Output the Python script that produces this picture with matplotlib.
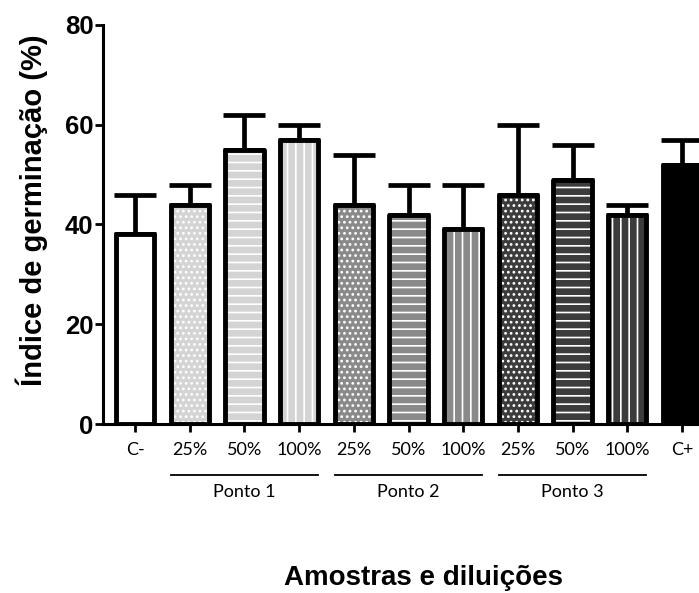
import matplotlib
matplotlib.use('Agg')
import matplotlib.pyplot as plt
import matplotlib.transforms as mtransforms

# data
labels = ['C-', '25%', '50%', '100%', '25%', '50%', '100%', '25%', '50%', '100%', 'C+']
means = [38, 44, 55, 57, 44, 42, 39, 46, 49, 42, 52]
errs = [8, 4, 7, 3, 10, 6, 9, 14, 7, 2, 5]
groups = ['Ponto 1', 'Ponto 2', 'Ponto 3']
group_members = [(1, 3), (4, 6), (7, 9)]

fills = ['white', '#d4d4d4', '#d4d4d4', '#d4d4d4', '#8a8a8a', '#8a8a8a', '#8a8a8a',
         '#3c3c3c', '#3c3c3c', '#3c3c3c', 'black']
hatches = [None, '...', '--', '||', '...', '--', '||', '...', '--', '||', None]

plt.rcParams['hatch.linewidth'] = 1.2

fig = plt.figure(figsize=(6.99, 5.93), dpi=100)
ax = fig.add_axes([103 / 699, 169 / 593, 596 / 699, 399 / 593])

x = list(range(len(labels)))
width = 0.7

# fill + white hatch first, black outline on top
for i in x:
    ax.bar(i, means[i], width, color=fills[i], edgecolor='white', linewidth=0,
           hatch=hatches[i], zorder=2)
ax.bar(x, means, width, fill=False, edgecolor='black', linewidth=3.5,
       joinstyle='round', zorder=3)
ax.errorbar(x, means, yerr=[[0] * len(errs), errs], fmt='none', ecolor='black',
            elinewidth=3.4, capsize=15, capthick=3.4, zorder=1)

ax.set_ylim(0, 80)
ax.set_xlim(-0.585, 10.31)
ax.set_yticks([0, 20, 40, 60, 80])
ax.set_xticks(x)
ax.set_xticklabels(labels, fontsize=13, family='Lato')
for t in ax.get_yticklabels():
    t.set_fontsize(18.5)
    t.set_fontweight('bold')
    t.set_family('Liberation Sans')

for s in ['top', 'right']:
    ax.spines[s].set_visible(False)
for s in ['left', 'bottom']:
    ax.spines[s].set_linewidth(2.2)
ax.tick_params(axis='y', length=6, width=2, pad=1)
ax.tick_params(axis='x', length=6, width=2, pad=7)

# group lines and names under the tick labels
trans = mtransforms.blended_transform_factory(ax.transData, ax.transAxes)
for name, (a, b) in zip(groups, group_members):
    ax.plot([a - 0.35, b + 0.35], [-0.128, -0.128], color='black', lw=1.3,
            transform=trans, clip_on=False)
    ax.text((a + b) / 2, -0.171, name, transform=trans, ha='center', va='center',
            fontsize=13, family='Lato')

fig.text(32 / 699, 1 - 210 / 593, 'Índice de germinação (%)', rotation=90,
         ha='center', va='center', fontsize=21, fontweight='bold',
         family='Liberation Sans')
fig.text(424 / 699, 1 - 578 / 593, 'Amostras e diluições', ha='center', va='center',
         fontsize=20, fontweight='bold', family='Liberation Sans')

fig.savefig('out.png', dpi=100)
